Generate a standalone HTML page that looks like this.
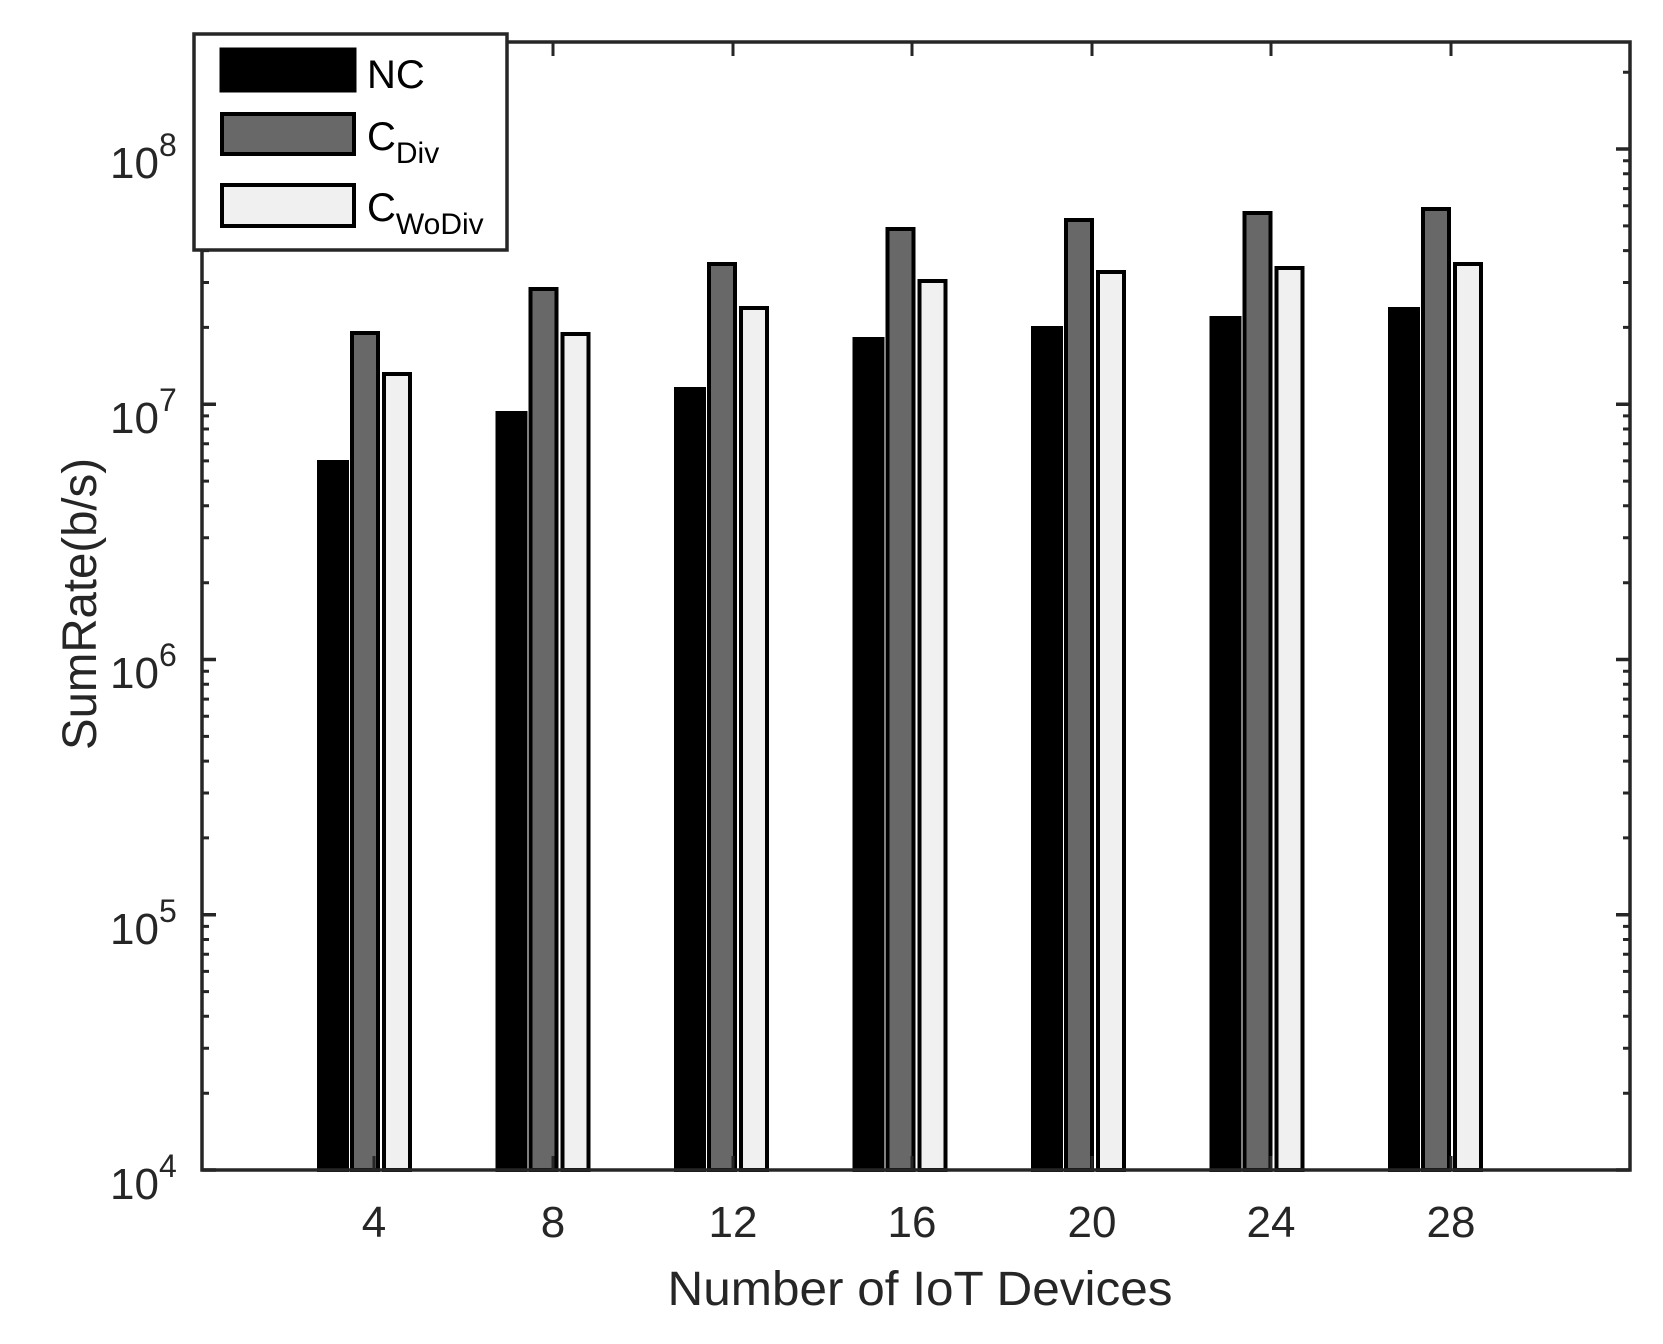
<!DOCTYPE html>
<html><head><style>body{margin:0;background:#fff}svg{display:block}</style></head>
<body>
<svg width="1663" height="1344" viewBox="0 0 1663 1344" xmlns="http://www.w3.org/2000/svg" font-family="Liberation Sans, Arial, sans-serif" fill="#262626">
<g id="bars" stroke="#000" stroke-width="4">
<rect x="319" y="462" width="28" height="708" fill="#000"/>
<rect x="352" y="333" width="26" height="837" fill="#686868"/>
<rect x="384" y="374" width="26" height="796" fill="#f0f0f0"/>

<rect x="497.5" y="413" width="28" height="757" fill="#000"/>
<rect x="530.5" y="289" width="26" height="881" fill="#686868"/>
<rect x="562.5" y="334" width="26" height="836" fill="#f0f0f0"/>

<rect x="676" y="389" width="28" height="781" fill="#000"/>
<rect x="709" y="264" width="26" height="906" fill="#686868"/>
<rect x="741" y="308" width="26" height="862" fill="#f0f0f0"/>

<rect x="854.5" y="339" width="28" height="831" fill="#000"/>
<rect x="887.5" y="229" width="26" height="941" fill="#686868"/>
<rect x="919.5" y="281" width="26" height="889" fill="#f0f0f0"/>

<rect x="1033" y="328" width="28" height="842" fill="#000"/>
<rect x="1066" y="220" width="26" height="950" fill="#686868"/>
<rect x="1098" y="272" width="26" height="898" fill="#f0f0f0"/>

<rect x="1211.5" y="318" width="28" height="852" fill="#000"/>
<rect x="1244.5" y="213" width="26" height="957" fill="#686868"/>
<rect x="1276.5" y="268" width="26" height="902" fill="#f0f0f0"/>

<rect x="1390" y="309" width="28" height="861" fill="#000"/>
<rect x="1423" y="209" width="26" height="961" fill="#686868"/>
<rect x="1455" y="264" width="26" height="906" fill="#f0f0f0"/>
</g>
<g stroke="#262626" stroke-width="3.5" fill="none">
<rect x="202" y="42" width="1428" height="1128"/>
<path d="
M202 1170h14M1630 1170h-14 M202 914.75h14M1630 914.75h-14 M202 659.5h14M1630 659.5h-14 M202 404.25h14M1630 404.25h-14 M202 149h14M1630 149h-14
"/>
</g>
<g stroke="#262626" stroke-width="3" fill="none">
<path d="
M202 1093.2h7M1630 1093.2h-7 M202 1048.2h7M1630 1048.2h-7 M202 1016.3h7M1630 1016.3h-7 M202 991.6h7M1630 991.6h-7 M202 971.4h7M1630 971.4h-7 M202 954.3h7M1630 954.3h-7 M202 939.5h7M1630 939.5h-7 M202 926.4h7M1630 926.4h-7
M202 837.9h7M1630 837.9h-7 M202 793h7M1630 793h-7 M202 761.1h7M1630 761.1h-7 M202 736.4h7M1630 736.4h-7 M202 716.2h7M1630 716.2h-7 M202 699.1h7M1630 699.1h-7 M202 684.3h7M1630 684.3h-7 M202 671.2h7M1630 671.2h-7
M202 327.4h7M1630 327.4h-7 M202 282.5h7M1630 282.5h-7 M202 250.6h7M1630 250.6h-7 M202 225.9h7M1630 225.9h-7 M202 205.7h7M1630 205.7h-7 M202 188.6h7M1630 188.6h-7 M202 173.8h7M1630 173.8h-7 M202 160.7h7M1630 160.7h-7
M202 582.7h7M1630 582.7h-7 M202 537.7h7M1630 537.7h-7 M202 505.8h7M1630 505.8h-7 M202 481.1h7M1630 481.1h-7 M202 460.9h7M1630 460.9h-7 M202 443.8h7M1630 443.8h-7 M202 429h7M1630 429h-7 M202 415.9h7M1630 415.9h-7
M202 72.2h7M1630 72.2h-7
M374 1170v-14M553 1170v-14M733 1170v-14M912 1170v-14M1092 1170v-14M1271 1170v-14M1451 1170v-14
M374 42v14M553 42v14M733 42v14M912 42v14M1092 42v14M1271 42v14M1451 42v14
"/>
</g>
<g font-size="44" text-anchor="middle">
<text x="374" y="1237">4</text><text x="553" y="1237">8</text><text x="733" y="1237">12</text><text x="912" y="1237">16</text><text x="1092" y="1237">20</text><text x="1271" y="1237">24</text><text x="1451" y="1237">28</text>
</g>
<g font-size="44">
<text x="110" y="178">10<tspan font-size="32" dy="-22">8</tspan></text>
<text x="110" y="433">10<tspan font-size="32" dy="-22">7</tspan></text>
<text x="110" y="688">10<tspan font-size="32" dy="-22">6</tspan></text>
<text x="110" y="944">10<tspan font-size="32" dy="-22">5</tspan></text>
<text x="110" y="1199">10<tspan font-size="32" dy="-22">4</tspan></text>
</g>
<text x="920" y="1305" font-size="48" text-anchor="middle" textLength="505" lengthAdjust="spacingAndGlyphs">Number of IoT Devices</text>
<text transform="translate(96,604) rotate(-90)" font-size="48" text-anchor="middle" textLength="292" lengthAdjust="spacingAndGlyphs">SumRate(b/s)</text>
<rect x="194" y="34" width="313" height="216" fill="#fff" stroke="#262626" stroke-width="3.5"/>
<rect x="221" y="49" width="134" height="42" fill="#000" stroke="#000" stroke-width="3"/>
<rect x="222" y="114" width="132" height="40" fill="#686868" stroke="#000" stroke-width="4"/>
<rect x="222" y="185" width="132" height="41" fill="#f0f0f0" stroke="#000" stroke-width="4"/>
<g font-size="40" fill="#000">
<text x="367" y="88">NC</text>
<text x="367" y="150">C<tspan font-size="30" dy="13">Div</tspan></text>
<text x="367" y="221">C<tspan font-size="30" dy="13">WoDiv</tspan></text>
</g>
</svg>
</body></html>
